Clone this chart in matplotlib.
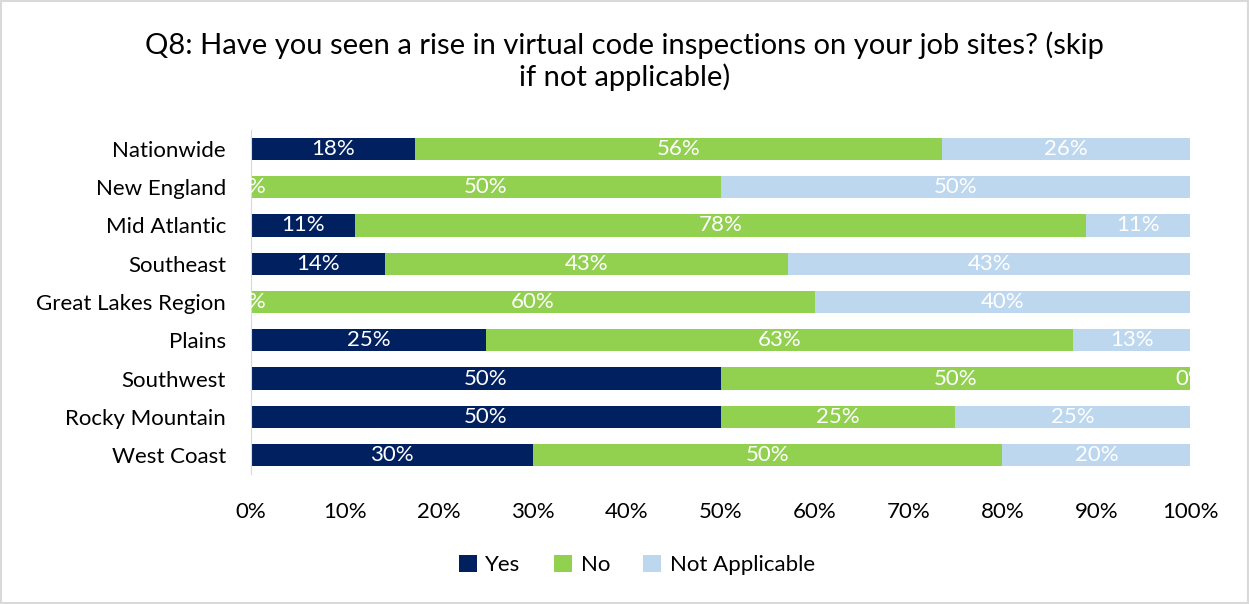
import matplotlib
matplotlib.use('Agg')
import matplotlib.pyplot as plt
from matplotlib.patches import Rectangle
import numpy as np

plt.rcParams['font.family'] = ['Lato', 'DejaVu Sans']

regions = ['Nationwide', 'New England', 'Mid Atlantic', 'Southeast',
           'Great Lakes Region', 'Plains', 'Southwest', 'Rocky Mountain',
           'West Coast']
yes_pct = [17.5, 0, 11.1, 14.3, 0, 25.0, 50.0, 50.0, 30.0]
no_pct = [56.1, 50.0, 77.8, 42.9, 60.0, 62.5, 50.0, 25.0, 50.0]
na_pct = [26.4, 50.0, 11.1, 42.9, 40.0, 12.5, 0, 25.0, 20.0]

series = [('Yes', yes_pct, '#002060'),
          ('No', no_pct, '#92D050'),
          ('Not Applicable', na_pct, '#BDD7EE')]

fig = plt.figure(figsize=(12.49, 6.04), dpi=100)
ax = fig.add_axes([0.201, 0.215, 0.752, 0.570])

y = np.arange(len(regions))
left = np.zeros(len(regions))
for name, vals, color in series:
    vals = np.array(vals)
    ax.barh(y, vals, left=left, height=0.58, color=color, label=name)
    for yi, l, v in zip(y, left, vals):
        ax.text(l + v / 2, yi, '%d%%' % int(v + 0.5), ha='center', va='center',
                color='white', fontsize=16, clip_on=True)
    left = left + vals

ax.set_xlim(0, 100)
ax.set_ylim(len(regions) - 0.5, -0.5)
ax.set_yticks(y)
ax.set_yticklabels(regions, fontsize=16)
ax.set_xticks(np.arange(0, 101, 10))
ax.set_xticklabels(['%d%%' % v for v in range(0, 101, 10)], fontsize=16)
ax.tick_params(length=0)
ax.tick_params(axis='x', pad=20)
ax.tick_params(axis='y', pad=18)
for s in ['top', 'right', 'bottom']:
    ax.spines[s].set_visible(False)
ax.spines['left'].set_color('#D9D9D9')

fig.text(0.5, 0.898, 'Q8: Have you seen a rise in virtual code inspections on your job sites? (skip\nif not applicable)',
         ha='center', va='center', fontsize=21, linespacing=1.2)

fig.legend(loc='center', bbox_to_anchor=(0.51, 0.065), ncol=3, frameon=False,
           fontsize=16, handlelength=0.8, handleheight=0.8, handletextpad=0.4,
           columnspacing=1.5)

fig.patches.append(Rectangle((0.001, 0.001), 0.998, 0.997, transform=fig.transFigure,
                             fill=False, edgecolor='#D9D9D9', linewidth=1.5))

plt.savefig('out.png', dpi=100)
